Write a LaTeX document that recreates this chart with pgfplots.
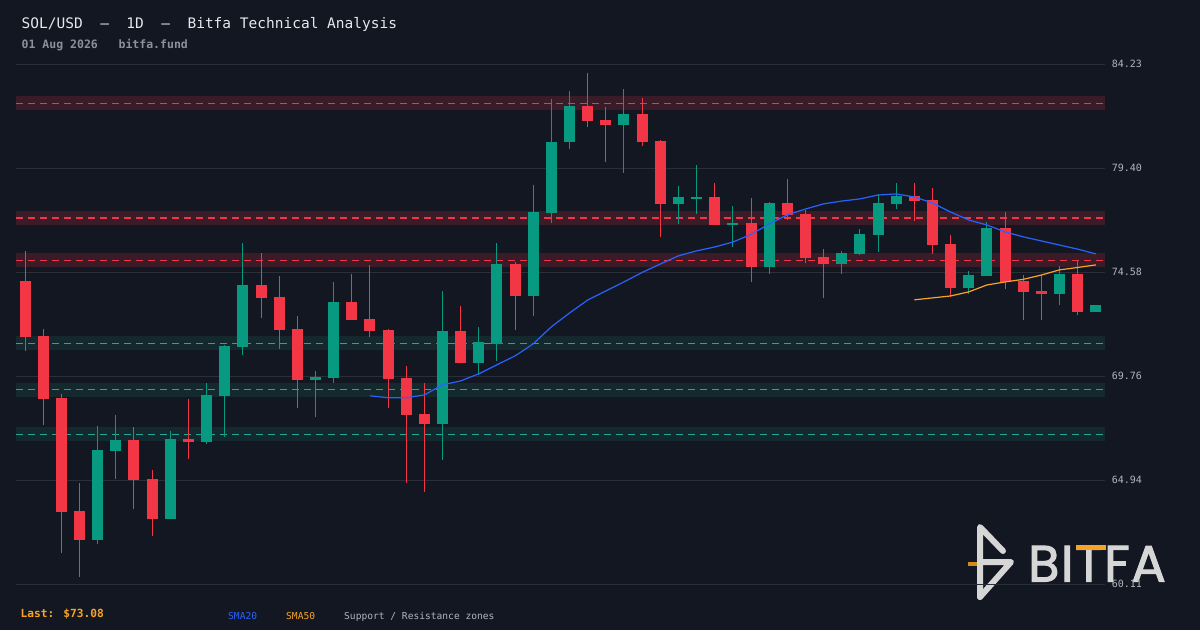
\documentclass[border=0pt]{standalone}
\usepackage{pgfplots}
\usepackage{pgfplotstable}
\pgfplotsset{compat=1.18}
\usepackage{fontspec}
\newfontfamily\mono{DejaVu Sans Mono}
\newfontfamily\logofont{Poppins}[FakeBold=2, LetterSpace=3]
\definecolor{bg}{HTML}{131722}
\definecolor{gridc}{HTML}{2A2E39}
\definecolor{cred}{HTML}{F23645}
\definecolor{cgreen}{HTML}{089981}
\definecolor{sgreen}{HTML}{26A69A}
\definecolor{rband}{HTML}{3A1C29}
\definecolor{sband}{HTML}{13292D}
\definecolor{sma20}{HTML}{2962FF}
\definecolor{sma50}{HTML}{F7A325}
\definecolor{ticktxt}{HTML}{B2B5BE}
\definecolor{titletxt}{HTML}{E6E8EC}
\definecolor{subtxt}{HTML}{8C909A}
\definecolor{logoc}{HTML}{D6D6D6}

% green candles: x open high low close
\pgfplotstableread{
x o h l c
4 62.17 67.46 62.00 66.34
5 66.30 67.97 65.00 66.81
8 63.15 67.23 63.15 66.86
10 66.72 69.45 66.62 68.89
11 68.85 71.21 66.95 71.16
12 71.12 75.94 70.75 73.99
16 69.59 70.00 67.89 69.73
17 69.68 74.13 69.45 73.20
23 67.55 73.71 65.88 71.86
25 70.38 72.05 69.82 71.35
26 71.26 75.94 70.47 74.96
28 73.48 78.63 72.55 77.37
29 77.33 82.61 76.86 80.63
30 80.62 82.98 80.29 82.29
33 81.41 83.08 79.18 81.92
36 77.74 78.58 76.82 78.07
37 77.98 79.55 77.28 78.07
39 76.77 77.65 75.75 76.86
41 74.83 77.84 74.50 77.79
45 74.96 75.57 74.50 75.47
46 75.43 76.59 75.38 76.35
47 76.31 78.21 75.52 77.79
48 77.74 78.72 77.51 78.12
52 73.85 74.64 73.57 74.45
53 74.41 76.91 74.41 76.63
57 73.57 74.87 73.06 74.50
59 72.74 73.08 72.74 73.08
}\greentab

% red candles: x open high low close
\pgfplotstableread{
x o h l c
0 74.18 75.57 70.95 71.58
1 71.63 71.95 67.50 68.71
2 68.76 68.94 61.58 63.47
3 63.52 64.81 60.43 62.17
6 66.81 67.41 63.61 64.95
7 65.00 65.42 62.36 63.15
9 66.86 68.71 65.93 66.72
13 73.99 75.47 72.46 73.39
14 73.44 74.41 71.03 71.91
15 71.95 72.55 68.29 69.59
18 73.20 74.50 72.37 72.37
19 72.42 74.92 71.58 71.86
20 71.91 71.95 68.29 69.64
21 69.68 70.24 64.81 67.97
22 68.01 69.45 64.40 67.55
24 71.86 73.02 70.38 70.38
27 74.96 75.06 71.91 73.48
31 82.29 83.82 81.31 81.59
32 81.64 82.24 79.69 81.41
34 81.92 82.66 80.43 80.62
35 80.66 80.71 76.21 77.74
38 78.07 78.72 76.77 76.77
40 76.86 78.02 74.13 74.83
42 77.79 78.90 77.00 77.24
43 77.28 77.47 75.01 75.24
44 75.29 75.66 73.39 74.96
49 78.12 78.72 76.96 77.88
50 77.93 78.49 75.43 75.85
51 75.89 76.31 73.44 73.85
54 76.63 77.37 73.81 74.13
55 74.18 74.45 72.37 73.67
56 73.71 74.45 72.37 73.57
58 74.50 75.10 72.60 72.74
}\redtab

\pgfplotstableread{
x v
19 68.85
20 68.76
21 68.76
22 68.89
23 69.36
24 69.54
25 69.87
26 70.29
27 70.70
28 71.26
29 72.05
30 72.69
31 73.29
32 73.71
33 74.13
34 74.57
35 74.96
36 75.34
37 75.57
38 75.75
39 75.98
40 76.33
41 76.82
42 77.24
43 77.51
44 77.75
45 77.88
46 77.98
47 78.16
48 78.21
49 78.07
50 77.79
51 77.37
52 77.00
53 76.77
54 76.45
55 76.22
56 76.03
57 75.84
58 75.65
59 75.43
}\smatwenty

\pgfplotstableread{
x v
49 73.30
50 73.39
51 73.48
52 73.67
53 73.99
54 74.13
55 74.25
56 74.45
57 74.69
58 74.80
59 74.92
}\smafifty

\begin{document}
\begin{tikzpicture}
\fill[bg] (0pt,0pt) rectangle (1200pt,630pt);

% titles
\node[anchor=base west, inner sep=0pt, text=titletxt, font={\mono\fontsize{14.5}{16}\selectfont}] at (21.5pt,601pt) {SOL/USD\ \ –\ \ 1D\ \ –\ \ Bitfa Technical Analysis};
\node[anchor=base west, inner sep=0pt, text=subtxt, font={\mono\bfseries\fontsize{11.5}{13}\selectfont}] at (21.5pt,581pt) {01 Aug 2026\ \ \ bitfa.fund};

% legend
\node[anchor=base west, inner sep=0pt, text=sma50, font={\mono\bfseries\fontsize{11.2}{13}\selectfont}] at (20.5pt,13pt) {Last: \$73.08};
\node[anchor=base west, inner sep=0pt, text=sma20, font={\mono\fontsize{9.6}{11}\selectfont}] at (228pt,11pt) {SMA20};
\node[anchor=base west, inner sep=0pt, text=sma50, font={\mono\fontsize{9.6}{11}\selectfont}] at (286pt,11pt) {SMA50};
\node[anchor=base west, inner sep=0pt, text=ticktxt, font={\mono\fontsize{9.6}{11}\selectfont}] at (344pt,11pt) {Support / Resistance zones};

% logo
\draw[logoc, line width=6pt, line cap=round, line join=round] (980pt,33pt) -- (980pt,103pt) -- (1003pt,79pt);
\draw[logoc, line width=6pt, line cap=round, line join=round] (980pt,68pt) -- (1011pt,68pt) -- (980pt,33pt);
\draw[sma50!85!black, line width=4pt] (968pt,66.5pt) -- (977pt,66.5pt);
\node[anchor=base west, inner sep=0pt, text=logoc, font={\logofont\fontsize{51}{51}\selectfont}] at (1028pt,48.5pt) {BITFA};
\draw[sma50, line width=5pt] (1076pt,82.5pt) -- (1106pt,82.5pt);

\begin{axis}[
  at={(16pt,45.7pt)}, anchor=south west,
  scale only axis, width=1089pt, height=520.2pt,
  xmin=-0.5, xmax=59.5, ymin=60.11, ymax=84.23,
  axis line style={draw=none},
  xtick=\empty,
  ytick={60.11,64.94,69.76,74.58,79.40,84.23},
  yticklabels={60.11,64.94,69.76,74.58,79.40,84.23},
  yticklabel pos=right,
  major tick length=0pt,
  ymajorgrids,
  major grid style={draw=gridc, line width=1pt},
  yticklabel style={anchor=west, inner sep=0pt, xshift=6.7pt, text=ticktxt, font={\mono\fontsize{10}{12}\selectfont}},
  scaled y ticks=false,
]
% zones
\addplot[fill=rband, draw=none, forget plot] coordinates {(-0.5,82.09) (59.5,82.09) (59.5,82.73) (-0.5,82.73)} -- cycle;
\addplot[fill=rband, draw=none, forget plot] coordinates {(-0.5,76.78) (59.5,76.78) (59.5,77.42) (-0.5,77.42)} -- cycle;
\addplot[fill=rband, draw=none, forget plot] coordinates {(-0.5,74.81) (59.5,74.81) (59.5,75.45) (-0.5,75.45)} -- cycle;
\addplot[fill=sband, draw=none, forget plot] coordinates {(-0.5,70.97) (59.5,70.97) (59.5,71.61) (-0.5,71.61)} -- cycle;
\addplot[fill=sband, draw=none, forget plot] coordinates {(-0.5,68.81) (59.5,68.81) (59.5,69.45) (-0.5,69.45)} -- cycle;
\addplot[fill=sband, draw=none, forget plot] coordinates {(-0.5,66.75) (59.5,66.75) (59.5,67.39) (-0.5,67.39)} -- cycle;
\addplot[cred, line width=1.3pt, dash pattern=on 7pt off 5pt, forget plot] coordinates {(-0.5,82.41) (59.5,82.41)};
\addplot[cred, line width=1.3pt, dash pattern=on 7pt off 5pt, forget plot] coordinates {(-0.5,77.10) (59.5,77.10)};
\addplot[cred, line width=1.3pt, dash pattern=on 7pt off 5pt, forget plot] coordinates {(-0.5,75.13) (59.5,75.13)};
\addplot[sgreen, line width=1.3pt, dash pattern=on 7pt off 5pt, forget plot] coordinates {(-0.5,71.29) (59.5,71.29)};
\addplot[sgreen, line width=1.3pt, dash pattern=on 7pt off 5pt, forget plot] coordinates {(-0.5,69.13) (59.5,69.13)};
\addplot[sgreen, line width=1.3pt, dash pattern=on 7pt off 5pt, forget plot] coordinates {(-0.5,67.07) (59.5,67.07)};

% wicks
\addplot[cgreen, draw=none, mark=none, forget plot, error bars/.cd, y dir=plus, y explicit, error mark=none, error bar style={draw=cgreen, solid, line width=1pt}]
  table[x=x, y=l, y error plus expr=\thisrow{h}-\thisrow{l}] {\greentab};
\addplot[cred, draw=none, mark=none, forget plot, error bars/.cd, y dir=plus, y explicit, error mark=none, error bar style={draw=cred, solid, line width=1pt}]
  table[x=x, y=l, y error plus expr=\thisrow{h}-\thisrow{l}] {\redtab};
% bodies
\addplot[cgreen, draw=none, mark=none, forget plot, error bars/.cd, y dir=plus, y explicit, error mark=none, error bar style={draw=cgreen, solid, line width=11pt}]
  table[x=x, y=o, y error plus expr=\thisrow{c}-\thisrow{o}] {\greentab};
\addplot[cred, draw=none, mark=none, forget plot, error bars/.cd, y dir=plus, y explicit, error mark=none, error bar style={draw=cred, solid, line width=11pt}]
  table[x=x, y=c, y error plus expr=\thisrow{o}-\thisrow{c}] {\redtab};

% moving averages
\addplot[sma20, line width=1.2pt, mark=none] table[x=x, y=v] {\smatwenty};
\addplot[sma50, line width=1.2pt, mark=none] table[x=x, y=v] {\smafifty};

% zone labels
\node[anchor=west, inner sep=0pt, xshift=6.7pt, text=cred, font={\mono\fontsize{10}{12}\selectfont}] at (axis cs:59.5,82.41) {R 82.41};
\node[anchor=west, inner sep=0pt, xshift=6.7pt, text=cred, font={\mono\fontsize{10}{12}\selectfont}] at (axis cs:59.5,77.10) {R 77.10};
\node[anchor=west, inner sep=0pt, xshift=6.7pt, text=cred, font={\mono\fontsize{10}{12}\selectfont}] at (axis cs:59.5,75.13) {R 75.13};
\node[anchor=west, inner sep=0pt, xshift=6.7pt, text=sgreen, font={\mono\fontsize{10}{12}\selectfont}] at (axis cs:59.5,71.29) {S 71.29};
\node[anchor=west, inner sep=0pt, xshift=6.7pt, text=sgreen, font={\mono\fontsize{10}{12}\selectfont}] at (axis cs:59.5,69.13) {S 69.13};
\node[anchor=west, inner sep=0pt, xshift=6.7pt, text=sgreen, font={\mono\fontsize{10}{12}\selectfont}] at (axis cs:59.5,67.07) {S 67.07};
\end{axis}

\pgfresetboundingbox
\path[use as bounding box] (0pt,0pt) rectangle (1200pt,630pt);
\end{tikzpicture}
\end{document}
